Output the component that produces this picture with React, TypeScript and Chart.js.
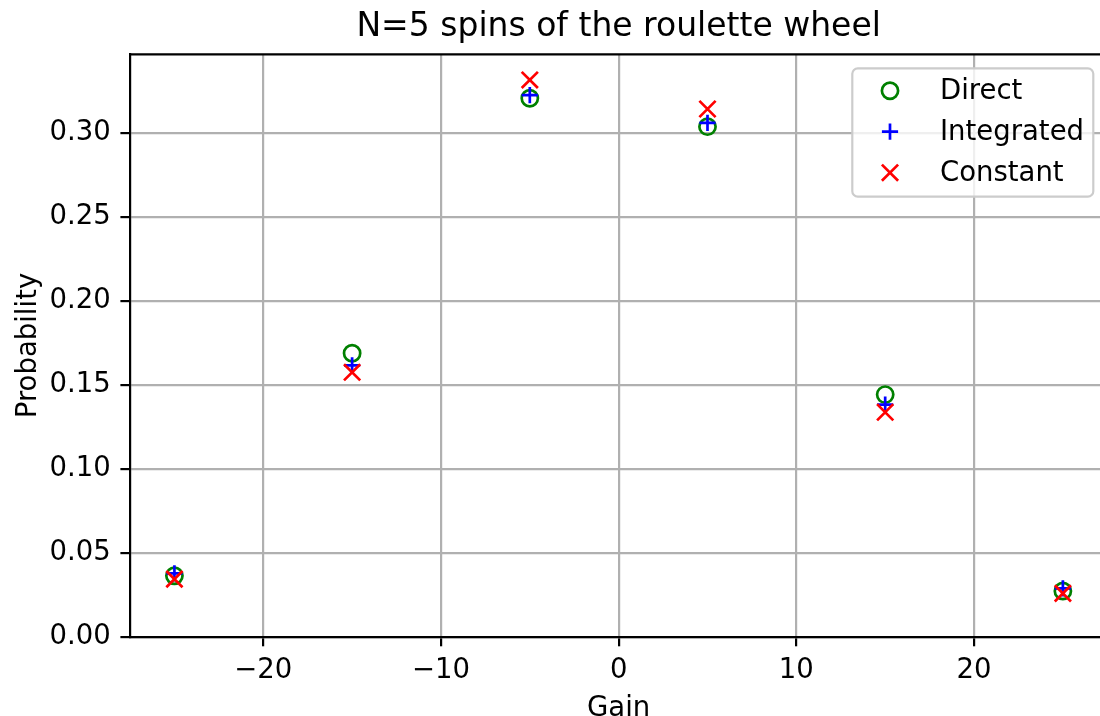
import React, { useEffect, useRef } from 'react';
import { Chart, registerables } from 'chart.js';

Chart.register(...registerables);

const titleText = 'N=5 spins of the roulette wheel';
const xLabel = 'Gain';
const yLabel = 'Probability';

const gains = [-25, -15, -5, 5, 15, 25];
const direct = [0.0363, 0.1687, 0.3205, 0.3036, 0.1441, 0.0272];
const integrated = [0.0377, 0.1615, 0.3224, 0.3059, 0.1382, 0.0288];
const constant = [0.0343, 0.1574, 0.3314, 0.3141, 0.1336, 0.0258];

const xTicks = [-20, -10, 0, 10, 20];
const yTicks = [0, 0.05, 0.1, 0.15, 0.2, 0.25, 0.3];

const X_MIN = -27.5;
const X_MAX = 27.5;
const Y_MIN = 0;
const Y_MAX = 0.34667;

const FONT = "'DejaVu Sans', sans-serif";
const CANVAS_W = 1110;
const CANVAS_H = 716;
const FS = 27.5;
const MR = 8.1;

const legendPlugin = {
  id: 'mplLegend',
  afterDraw(chart: any) {
    const ctx = chart.ctx;
    const x0 = 852.3, y0 = 68.3, x1 = 1093.3, y1 = 196.7, r = 5.5;
    ctx.save();
    ctx.beginPath();
    ctx.moveTo(x0 + r, y0);
    ctx.lineTo(x1 - r, y0);
    ctx.arcTo(x1, y0, x1, y0 + r, r);
    ctx.lineTo(x1, y1 - r);
    ctx.arcTo(x1, y1, x1 - r, y1, r);
    ctx.lineTo(x0 + r, y1);
    ctx.arcTo(x0, y1, x0, y1 - r, r);
    ctx.lineTo(x0, y0 + r);
    ctx.arcTo(x0, y0, x0 + r, y0, r);
    ctx.closePath();
    ctx.fillStyle = 'rgba(255,255,255,0.8)';
    ctx.fill();
    ctx.lineWidth = 2.2;
    ctx.strokeStyle = '#cccccc';
    ctx.stroke();

    const rows = [90.7, 131.7, 172.7];
    const mx = 890;
    const tx = 940;
    const sets = [...chart.data.datasets].sort((a: any, b: any) => (a.legendIndex ?? 0) - (b.legendIndex ?? 0));
    sets.forEach((ds: any, i: number) => {
      const y = rows[i];
      ctx.strokeStyle = ds.borderColor;
      ctx.lineWidth = ds.borderWidth;
      ctx.beginPath();
      const h = MR;
      if (ds.pointStyle === 'circle') {
        ctx.arc(mx, y, h, 0, Math.PI * 2);
      } else if (ds.pointStyle === 'cross') {
        ctx.moveTo(mx - h, y); ctx.lineTo(mx + h, y);
        ctx.moveTo(mx, y - h); ctx.lineTo(mx, y + h);
      } else {
        ctx.moveTo(mx - h, y - h); ctx.lineTo(mx + h, y + h);
        ctx.moveTo(mx - h, y + h); ctx.lineTo(mx + h, y - h);
      }
      ctx.stroke();
      ctx.fillStyle = '#000000';
      ctx.font = `${FS}px ${FONT}`;
      ctx.textAlign = 'left';
      ctx.textBaseline = 'middle';
      ctx.fillText(ds.label, tx, y + 1.5);
    });
    ctx.restore();
  },
};

const framePlugin = {
  id: 'mplFrame',
  afterDatasetsDraw(chart: any) {
    const { ctx, chartArea } = chart;
    ctx.save();
    ctx.strokeStyle = '#000000';
    ctx.lineWidth = 2.2;
    ctx.beginPath();
    ctx.moveTo(chartArea.left, chartArea.top);
    ctx.lineTo(chartArea.right, chartArea.top);
    ctx.lineTo(chartArea.right, chartArea.bottom);
    ctx.stroke();
    ctx.restore();
  },
};

export default function App() {
  const ref = useRef<HTMLCanvasElement>(null);

  useEffect(() => {
    if (!ref.current) return;
    const mk = (vals: number[]) => gains.map((g, i) => ({ x: g, y: vals[i] }));
    const chart = new Chart(ref.current, {
      type: 'scatter',
      data: {
        datasets: [
          {
            label: 'Direct',
            data: mk(direct),
            pointStyle: 'circle',
            pointRadius: MR,
            pointHoverRadius: MR,
            borderWidth: 2.7,
            borderColor: '#008000',
            backgroundColor: 'rgba(0,0,0,0)',
            order: 3,
            legendIndex: 0,
          } as any,
          {
            label: 'Integrated',
            data: mk(integrated),
            pointStyle: 'cross',
            pointRadius: MR,
            pointHoverRadius: MR,
            borderWidth: 2.7,
            borderColor: '#0000ff',
            backgroundColor: '#0000ff',
            order: 2,
            legendIndex: 1,
          } as any,
          {
            label: 'Constant',
            data: mk(constant),
            pointStyle: 'crossRot',
            pointRadius: MR * Math.SQRT2,
            pointHoverRadius: MR * Math.SQRT2,
            borderWidth: 2.7,
            borderColor: '#ff0000',
            backgroundColor: '#ff0000',
            order: 1,
            legendIndex: 2,
          } as any,
        ],
      },
      options: {
        responsive: false,
        animation: false,
        devicePixelRatio: 1,
        layout: {
          autoPadding: false,
          padding: { left: 0, right: CANVAS_W - 1107.3, top: 0, bottom: 0 },
        },
        plugins: {
          legend: { display: false },
          tooltip: { enabled: false },
          title: {
            display: true,
            text: titleText,
            fullSize: false,
            color: '#000000',
            font: { family: FONT, size: 33, weight: 'normal', lineHeight: 1 },
            padding: { top: 10.8, bottom: 10.5 },
          },
        },
        scales: {
          x: {
            type: 'linear',
            min: X_MIN,
            max: X_MAX,
            afterFit: (s: any) => {
              s.height = CANVAS_H - 636.7;
              s.paddingLeft = 0;
              s.paddingRight = 0;
            },
            afterBuildTicks: (s: any) => { s.ticks = xTicks.map((v) => ({ value: v })); },
            grid: {
              color: '#b0b0b0',
              lineWidth: 2.2,
              drawTicks: true,
              tickLength: 9.6,
              tickColor: '#000000',
              tickWidth: 2.2,
            },
            border: { display: true, color: '#000000', width: 2.2 },
            ticks: {
              color: '#000000',
              padding: 8.5,
              maxRotation: 0,
              autoSkip: false,
              font: { family: FONT, size: FS },
              callback: (v: any) => (v < 0 ? '\u2212' + Math.abs(v) : String(v)),
            },
            title: {
              display: true,
              text: xLabel,
              color: '#000000',
              font: { family: FONT, size: FS, lineHeight: 0.5 },
              padding: { top: 0, bottom: 0 },
            },
          },
          y: {
            type: 'linear',
            min: Y_MIN,
            max: Y_MAX,
            afterFit: (s: any) => {
              s.width = 130;
              s.paddingTop = 0;
              s.paddingBottom = 0;
            },
            afterBuildTicks: (s: any) => { s.ticks = yTicks.map((v) => ({ value: v })); },
            grid: {
              color: '#b0b0b0',
              lineWidth: 2.2,
              drawTicks: true,
              tickLength: 9.6,
              tickColor: '#000000',
              tickWidth: 2.2,
            },
            border: { display: true, color: '#000000', width: 2.2 },
            ticks: {
              color: '#000000',
              padding: 9.6,
              autoSkip: false,
              font: { family: FONT, size: FS },
              callback: (v: any) => Number(v).toFixed(2),
            },
            title: {
              display: true,
              text: yLabel,
              color: '#000000',
              font: { family: FONT, size: FS, lineHeight: 1 },
              padding: { top: 15.5, bottom: 0 },
            },
          },
        },
      },
      plugins: [framePlugin, legendPlugin],
    });
    return () => chart.destroy();
  }, []);

  return (
    <div
      style={{
        position: 'fixed',
        left: 0,
        top: 0,
        width: 1100,
        height: 716,
        overflow: 'hidden',
        background: '#ffffff',
      }}
    >
      <canvas
        ref={ref}
        width={CANVAS_W}
        height={CANVAS_H}
        style={{ display: 'block', width: CANVAS_W, height: CANVAS_H }}
      />
    </div>
  );
}
